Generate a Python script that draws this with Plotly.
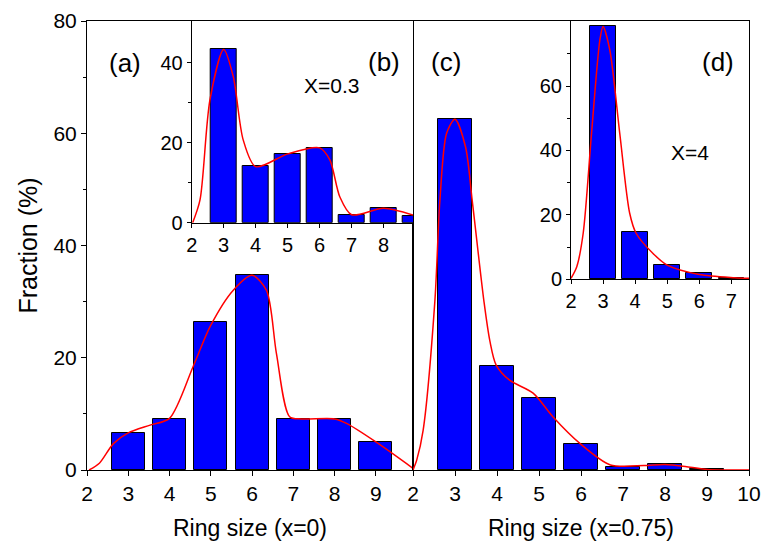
import plotly.graph_objects as go

# ---------------- data ----------------
ring_a = [3, 4, 5, 6, 7, 8, 9]
frac_a = [6.6, 9.1, 26.4, 34.7, 9.1, 9.1, 5.0]
fit_a_x = [2.05, 2.3, 2.64, 3.0, 3.53, 4.0, 4.57, 5.0, 5.54, 6.0, 6.35, 6.59, 6.91, 7.2, 8.0, 8.29, 9.0, 9.9]
fit_a_y = [0.0, 1.2, 4.7, 6.6, 8.0, 9.2, 18.4, 25.8, 32.0, 34.7, 32.0, 20.8, 9.5, 9.1, 9.1, 8.3, 5.0, 0.3]

ring_b = [3, 4, 5, 6, 7, 8, 9]
frac_b = [43.3, 14.2, 17.2, 18.7, 2.0, 3.6, 1.7]
fit_b_x = [2.03, 2.26, 2.57, 3.0, 3.3, 3.61, 4.0, 5.0, 6.0, 6.32, 6.63, 7.0, 8.0, 8.92]
fit_b_y = [0.0, 5.7, 30.7, 43.3, 36.5, 20.7, 14.0, 17.2, 18.7, 15.7, 6.5, 2.0, 3.6, 1.9]

ring_c = [3, 4, 5, 6, 7, 8, 9]
frac_c = [62.5, 18.6, 12.8, 4.7, 0.6, 1.0, 0.1]
fit_c_x = [2.0, 2.09, 2.24, 2.52, 2.64, 2.8, 3.0, 3.25, 3.41, 3.69, 3.83, 3.98, 4.3, 4.86, 5.33, 5.98, 6.7, 7.5, 8.0, 8.6, 9.0, 10.0]
fit_c_y = [0.0, 1.8, 7.0, 30.0, 48.0, 60.0, 62.5, 57.6, 48.0, 30.0, 23.0, 18.7, 16.0, 13.7, 9.5, 4.7, 0.9, 0.8, 1.0, 0.5, 0.1, 0.0]

ring_d = [3, 4, 5, 6, 7]
frac_d = [78.7, 14.7, 4.4, 1.9, 0.5]
fit_d_x = [2.0, 2.18, 2.38, 2.64, 2.9, 3.0, 3.21, 3.52, 3.83, 4.03, 4.55, 5.0, 6.0, 7.1, 7.55]
fit_d_y = [0.3, 3.9, 14.3, 45.3, 74.3, 78.5, 71.2, 45.3, 20.5, 14.3, 8.1, 4.4, 1.5, 0.5, 0.3]

main_yticks = [0, 20, 40, 60, 80]
main_xticks_a = [2, 3, 4, 5, 6, 7, 8, 9]
main_xticks_c = [2, 3, 4, 5, 6, 7, 8, 9, 10]
inset_b_xticks = [2, 3, 4, 5, 6, 7, 8]
inset_b_yticks = [0, 20, 40]
inset_d_xticks = [2, 3, 4, 5, 6, 7]
inset_d_yticks = [0, 20, 40, 60]

# ---------------- styling ----------------
FONT = "Liberation Sans, Arial, sans-serif"
BLUE = "#0000FF"
RED = "#FF0000"
TICK_MAIN = 21
TICK_INSET = 20

fig = go.Figure()

def add_panel(xs, ys, fx, fy, xa, ya):
    fig.add_trace(go.Bar(x=xs, y=ys, width=0.8, marker=dict(color=BLUE, line=dict(color="black", width=1)),
                         xaxis=xa, yaxis=ya, showlegend=False))
    fig.add_trace(go.Scatter(x=fx, y=fy, mode="lines", line=dict(color=RED, width=1.5, shape="spline", smoothing=0.8),
                             xaxis=xa, yaxis=ya, showlegend=False, cliponaxis=True))

add_panel(ring_a, frac_a, fit_a_x, fit_a_y, "x", "y")
add_panel(ring_c, frac_c, fit_c_x, fit_c_y, "x2", "y2")
add_panel(ring_b, frac_b, fit_b_x, fit_b_y, "x3", "y3")
add_panel(ring_d, frac_d, fit_d_x, fit_d_y, "x4", "y4")

split = (413 - 87) / 662

def ax(size, **kw):
    d = dict(showgrid=False, zeroline=False, showline=True, linecolor="black", linewidth=1,
             ticks="outside", ticklen=5, tickcolor="black", automargin=False,
             tickfont=dict(family=FONT, size=size, color="black"))
    d.update(kw)
    return d

fig.update_layout(
    width=764, height=542,
    margin=dict(l=87, r=15, t=21, b=72),
    plot_bgcolor="white", paper_bgcolor="white",
    bargap=0,
    font=dict(family=FONT, color="black"),
    xaxis=ax(TICK_MAIN, domain=[0, split], range=[2, 9.9], tickvals=main_xticks_a, mirror=True,
             title=dict(text="Ring size (x=0)", font=dict(family=FONT, size=23), standoff=15), anchor="y"),
    yaxis=ax(TICK_MAIN, domain=[0, 1], range=[0, 80], tickvals=main_yticks, mirror=True,
             minor=dict(tickvals=[10, 30, 50, 70], ticks="outside", ticklen=3, tickcolor="black"),
             title=dict(text="Fraction (%)", font=dict(family=FONT, size=25), standoff=8), anchor="x"),
    xaxis2=ax(TICK_MAIN, domain=[split, 1], range=[2, 10], tickvals=main_xticks_c, mirror=True,
              title=dict(text="Ring size (x=0.75)", font=dict(family=FONT, size=23), standoff=15), anchor="y2"),
    yaxis2=ax(TICK_MAIN, domain=[0, 1], range=[0, 80], tickvals=main_yticks, showticklabels=False,
              ticks="", mirror=True, anchor="x2"),
    xaxis3=ax(TICK_INSET, domain=[(191.7 - 87) / 662, split], range=[2, 8.92], tickvals=inset_b_xticks,
              ticklen=4, anchor="y3"),
    yaxis3=ax(TICK_INSET, domain=[(470 - 222.7) / 449, 1], range=[0, 50.4], tickvals=inset_b_yticks,
              ticklen=4, minor=dict(tickvals=[10, 30], ticks="outside", ticklen=3, tickcolor="black"),
              anchor="x3"),
    xaxis4=ax(TICK_INSET, domain=[(571 - 87) / 662, 1], range=[2, 7.55], tickvals=inset_d_xticks,
              ticklen=4, anchor="y4"),
    yaxis4=ax(TICK_INSET, domain=[(470 - 279.3) / 449, 1], range=[0, 80.2], tickvals=inset_d_yticks,
              ticklen=4, minor=dict(tickvals=[10, 30, 50, 70], ticks="outside", ticklen=3, tickcolor="black"),
              anchor="x4"),
)

# positions in pixel coordinates of the page, converted to paper fractions
def plabel(text, px, py, size=26):
    fig.add_annotation(text=text, x=(px - 87) / 662, y=(470 - py) / 449, xref="paper", yref="paper",
                       showarrow=False, font=dict(family=FONT, size=size, color="black"),
                       xanchor="center", yanchor="middle")

plabel("(a)", 125, 63)
plabel("(b)", 384, 62)
plabel("(c)", 446, 62)
plabel("(d)", 718, 62)
plabel("X=0.3", 331, 86, size=21)
plabel("X=4", 690, 152, size=21)

fig.write_html("out.html")
